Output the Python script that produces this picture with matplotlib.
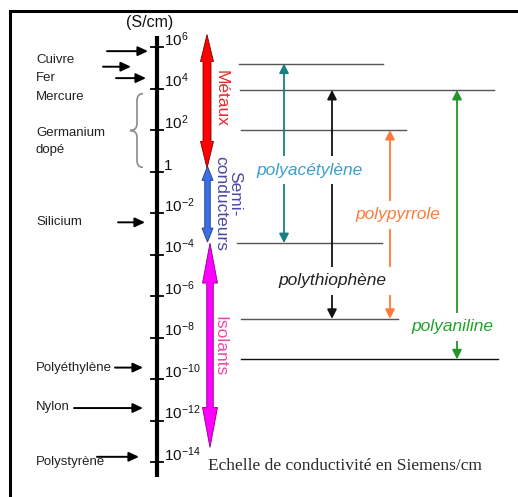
import matplotlib
matplotlib.use('Agg')
import matplotlib.pyplot as plt
from matplotlib.path import Path
from matplotlib.patches import PathPatch, Polygon

plt.rcParams['font.family'] = ['Liberation Sans', 'DejaVu Sans']
plt.rcParams['mathtext.fontset'] = 'custom'
plt.rcParams['mathtext.rm'] = 'Liberation Sans'
plt.rcParams['mathtext.it'] = 'Liberation Sans:italic'

# --- données : conductivités en log10(S/cm) ---
tick_exp = [6, 4, 2, 0, -2, -4, -6, -8, -10, -12, -14]

materials = ['Cuivre', 'Fer', 'Mercure', 'Silicium', 'Polyéthylène', 'Nylon', 'Polystyrène']
material_logS = [5.8, 5.05, 4.5, -2.45, -9.45, -11.4, -13.75]
germanium_range = (0.2, 3.75)   # "Germanium dopé"

classes = ['Métaux', 'Semi-\nconducteurs', 'Isolants']
class_lo = [0.15, -3.4, -13.3]
class_hi = [6.6, 0.25, -3.45]

polymers = ['polyacétylène', 'polythiophène', 'polypyrrole', 'polyaniline']
poly_lo = [-3.45, -7.1, -7.1, -9.05]
poly_hi = [5.2, 3.93, 2.0, 3.93]

# --- mise en page (pixels) ---
Y0, K = 47, 20.75          # 10^6 à y=47 px, 20.75 px par décade


def v(px):
    # position verticale en pixels -> log10(S/cm)
    return 6 - (px - Y0) / K


fig = plt.figure(figsize=(5.18, 4.97), dpi=100)
ax = fig.add_axes([0, 0, 1, 1])
ax.set_xlim(0, 518)
ax.set_ylim(v(497), v(0))
ax.axis('off')

# cadre (haut + gauche)
ax.plot([10, 10, 518], [v(497), v(11), v(11)], color='k', lw=2.2, solid_joinstyle='miter')

# axe principal
AX_X = 157
ax.plot([AX_X, AX_X], [v(36), v(477)], color='k', lw=3.0, solid_capstyle='butt')
for e in tick_exp:
    ax.plot([151, 163], [e, e], color='k', lw=1.3)
    lab = '1' if e == 0 else r'$\mathregular{10^{%d}}$' % e
    ax.text(164, e + 0.05, lab, fontsize=11, ha='left', va='baseline', color='#111111')
ax.text(150, v(22), '(S/cm)', fontsize=11.5, ha='center', va='center', color='#111111')

# matériaux de référence
label_y = [60, 78, 97, 222, 368, 407, 462]
arrow_x0 = [107, 103, 116, 118, 115, 74, 97]
arrow_x1 = [148, 131, 146, 145, 143, 143, 139]
for name, val, ly, x0, x1 in zip(materials, material_logS, label_y, arrow_x0, arrow_x1):
    ax.text(36, v(ly), name, fontsize=9.5, ha='left', va='center', color='#222222')
    ax.annotate('', xy=(x1, val), xytext=(x0, val),
                arrowprops=dict(arrowstyle='-|>,head_length=0.6,head_width=0.28',
                                color='k', lw=1.4, shrinkA=0, shrinkB=0))

ax.text(36, v(133), 'Germanium', fontsize=9.5, ha='left', va='center', color='#222222')
ax.text(36, v(150), 'dopé', fontsize=9.5, ha='left', va='center', color='#222222')

# accolade du germanium
lo, hi = germanium_range
mid = (lo + hi) / 2
c = 7 / K
verts = [(143, hi), (137, hi), (137, hi - c), (137, mid + c), (137, mid), (130, mid),
         (137, mid), (137, mid - c), (137, lo + c), (137, lo), (143, lo)]
codes = [Path.MOVETO, Path.CURVE3, Path.CURVE3, Path.LINETO, Path.CURVE3, Path.CURVE3,
         Path.CURVE3, Path.CURVE3, Path.LINETO, Path.CURVE3, Path.CURVE3]
ax.add_patch(PathPatch(Path(verts, codes), fc='none', ec='#8a8a8a', lw=1.2))

# grosses flèches doubles : métaux / semi-conducteurs / isolants
class_x = [207, 207.5, 210]
class_shaft = [8, 5.5, 6.5]
class_head = [13, 11, 15]
class_hl = [27, 14, 40]
class_fc = ['#ff0000', '#3b6fe6', '#ff00ff']
class_ec = ['#7a0000', '#1f3a80', '#880088']
for x, a, b, sw, hw, hl_px, fc, ec in zip(class_x, class_lo, class_hi, class_shaft,
                                          class_head, class_hl, class_fc, class_ec):
    hl = hl_px / K
    xs = [x, x + hw / 2, x + sw / 2, x + sw / 2, x + hw / 2, x,
          x - hw / 2, x - sw / 2, x - sw / 2, x - hw / 2]
    ys = [b, b - hl, b - hl, a + hl, a + hl, a, a + hl, a + hl, b - hl, b - hl]
    ax.add_patch(Polygon(list(zip(xs, ys)), closed=True, fc=fc, ec=ec, lw=0.6, zorder=3))

class_text_color = ['#e52d2d', '#4a4aa5', '#f04aa8']
class_text_pos = [[(221, 99)], [(235, 194), (221, 204)], [(220, 346)]]
for name, col, pos in zip(classes, class_text_color, class_text_pos):
    for line, (tx, ty) in zip(name.split('\n'), pos):
        ax.text(tx, v(ty), line, fontsize=12.5, color=col, rotation=-90,
                ha='center', va='center', zorder=4)

# polymères conducteurs
hline_levels = [poly_hi[0], poly_hi[1], poly_hi[2], poly_lo[0], poly_lo[1], poly_lo[3]]
hline_x0 = [239, 240, 241, 237, 241, 241]
hline_x1 = [383, 494, 406, 382, 398, 498]
hline_col = ['#555555'] * 5 + ['#111111']
for yv, x0, x1, col in zip(hline_levels, hline_x0, hline_x1, hline_col):
    ax.plot([x0, x1], [yv, yv], color=col, lw=1.0, zorder=1)

poly_x = [284, 332, 390, 457]
poly_arrow_col = ['#178080', '#111111', '#ff7a3a', '#22962a']
poly_text_col = ['#3a9fd0', '#222222', '#ff7a3a', '#22a22a']
poly_label = [(310, 170), (332, 281), (398, 215), (452, 327)]
for name, x, a, b, ac, tc, (lx, ly) in zip(polymers, poly_x, poly_lo, poly_hi,
                                           poly_arrow_col, poly_text_col, poly_label):
    ax.annotate('', xy=(x, b), xytext=(x, a), zorder=2,
                arrowprops=dict(arrowstyle='<|-|>,head_length=0.55,head_width=0.28',
                                color=ac, lw=1.3, shrinkA=0, shrinkB=0))
    ax.text(lx, v(ly), name, fontsize=12.5, style='italic', color=tc,
            ha='center', va='center', zorder=5,
            bbox=dict(fc='white', ec='none', boxstyle='square,pad=0.38'))

ax.text(208, v(470), 'Echelle de conductivité en Siemens/cm', family=['Liberation Serif'],
        fontsize=12.5, color='#2a2a2a', ha='left', va='baseline')

fig.savefig('out.png', dpi=100)
